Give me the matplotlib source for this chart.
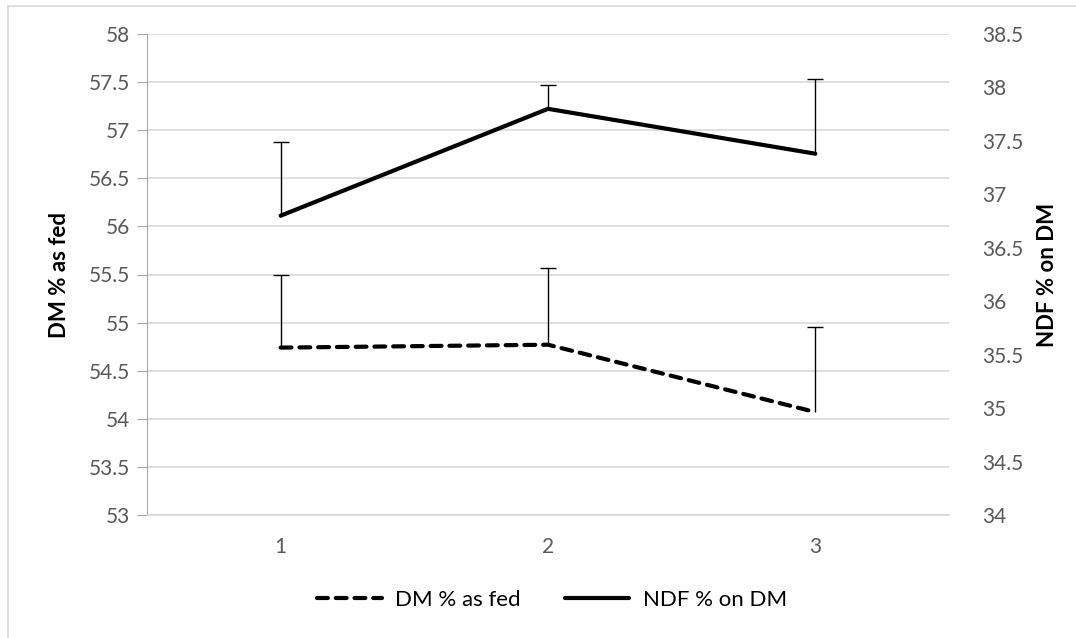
import numpy as np
import matplotlib
matplotlib.use("Agg")
import matplotlib.pyplot as plt
from matplotlib.lines import Line2D

# chart values
groups = ["1", "2", "3"]
dm_as_fed = [54.74, 54.77, 54.07]
dm_err = [0.76, 0.80, 0.88]
ndf_on_dm = [36.80, 37.80, 37.38]
ndf_err = [0.69, 0.22, 0.70]

left_ticks = np.arange(53, 58.01, 0.5)
right_ticks = np.arange(34, 38.51, 0.5)

plt.rcParams["font.family"] = ["Lato", "DejaVu Sans"]

fig = plt.figure(figsize=(10.76, 6.38), dpi=100)
ax = fig.add_axes([147 / 1076, 1 - 515 / 638, (949 - 147) / 1076, (515 - 34) / 638])
ax2 = ax.twinx()

x = np.arange(len(groups))


def upper_errbar(axis, xs, ys, errs):
    # only the upper half of the error bar, cap on top
    _, caps, _ = axis.errorbar(xs, ys, yerr=[np.zeros(len(ys)), errs], fmt="none",
                               ecolor="black", elinewidth=1, capsize=6, capthick=1)
    caps[0].set_visible(False)


# DM on left axis, dashed
upper_errbar(ax, x, dm_as_fed, dm_err)
l1, = ax.plot(x, dm_as_fed, color="black", lw=3.0, dashes=(2.6, 1.9),
              dash_capstyle="round", label="DM % as fed")

# NDF on right axis, solid
upper_errbar(ax2, x, ndf_on_dm, ndf_err)
l2, = ax2.plot(x, ndf_on_dm, color="black", lw=3.0, solid_capstyle="round",
               label="NDF % on DM")

ax.set_xlim(-0.5, 2.5)
ax.set_ylim(53, 58)
ax2.set_ylim(34, 38.5)
ax.set_xticks(x)
ax.set_xticklabels(groups)
ax.set_yticks(left_ticks)
ax.set_yticklabels(["%g" % t for t in left_ticks])
ax2.set_yticks(right_ticks)
ax2.set_yticklabels(["%g" % t for t in right_ticks])

ax.grid(axis="y", color="#d9d9d9", lw=1.2)
ax.set_axisbelow(True)

for a in (ax, ax2):
    a.spines["top"].set_visible(False)
    a.spines["right"].set_visible(False)
ax2.spines["left"].set_visible(False)
ax2.spines["bottom"].set_visible(False)
ax.spines["left"].set_color("#a6a6a6")
ax.spines["bottom"].set_color("#d9d9d9")
ax.spines["bottom"].set_linewidth(1.2)

ax.tick_params(axis="y", length=7, color="#a6a6a6", labelsize=15, labelcolor="#595959", pad=5)
ax.tick_params(axis="x", length=0, labelsize=15, labelcolor="#595959", pad=16)
ax2.tick_params(axis="y", length=0, labelsize=15, labelcolor="#595959", pad=24)

ax.set_ylabel("DM % as fed", fontsize=16, fontweight="bold", labelpad=14)
ax2.set_ylabel("NDF % on DM", fontsize=16, fontweight="bold", labelpad=10)

fig.legend([l1, l2], ["DM % as fed", "NDF % on DM"], loc="center",
           bbox_to_anchor=(552 / 1076, 1 - 600 / 638), ncol=2, frameon=False,
           fontsize=16, handlelength=2.9, handletextpad=0.6, columnspacing=2.0)

# light chart border (top and left visible in the crop)
fig.add_artist(Line2D([8 / 1076, 1], [1 - 6 / 638, 1 - 6 / 638], color="#d9d9d9", lw=1.2))
fig.add_artist(Line2D([8 / 1076, 8 / 1076], [0, 1 - 6 / 638], color="#d9d9d9", lw=1.2))

fig.savefig("out.png", dpi=100)
